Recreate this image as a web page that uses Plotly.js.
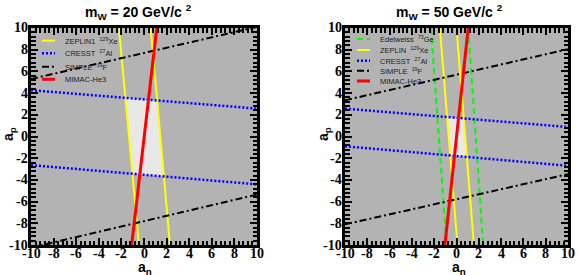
<!DOCTYPE html>
<html><head><meta charset="utf-8">
<script src="https://cdn.plot.ly/plotly-3.0.1.min.js"></script>
<style>html,body{margin:0;padding:0;background:#fff}</style>
</head><body>
<div id="chart" style="width:579px;height:275px"></div>
<script>
// ---------- data ----------
const tickVals = [-10,-8,-6,-4,-2,0,2,4,6,8,10];
const tickText = ['-10','-8','-6','-4','-2','0','2','4','6','8','10'];
const apEnds = [10, -10];
const anEnds = [-10, 10];

const an20Zeplin1 = [-2.22, -0.44];
const an20Zeplin2 = [0.59, 2.30];
const an20Mimac   = [1.13, -1.09];
const ap20Cresst1 = [4.27, 2.57];
const ap20Cresst2 = [-2.64, -4.41];
const ap20Simple1 = [5.30, 10.10];
const ap20Simple2 = [-10.25, -5.35];

const an50Edel1   = [-2.29, -0.89];
const an50Edel2   = [1.05, 2.39];
const an50Zeplin1 = [-1.49, 0.09];
const an50Zeplin2 = [0.00, 1.56];
const an50Mimac   = [1.05, -1.04];
const ap50Cresst1 = [2.57, 0.87];
const ap50Cresst2 = [-0.90, -2.70];
const ap50Simple1 = [3.34, 8.05];
const ap50Simple2 = [-8.10, -3.47];

const legend20 = ['ZEPLIN1\u00a0\u00a0<sup>129</sup>Xe', 'CRESST\u00a0\u00a0<sup>27</sup>Al', 'SIMPLE\u00a0\u00a0<sup>19</sup>F', 'MIMAC-He3'];
const legend50 = ['Edelweiss\u00a0\u00a0<sup>73</sup>Ge', 'ZEPLIN\u00a0\u00a0<sup>129</sup>Xe', 'CRESST\u00a0\u00a0<sup>27</sup>Al', 'SIMPLE\u00a0\u00a0<sup>19</sup>F', 'MIMAC-He3'];
const titles = ['m<sub>W</sub> = 20 GeV/c <sup>2</sup>', 'm<sub>W</sub> = 50 GeV/c <sup>2</sup>'];
const xTitle = 'a<sub>n</sub>';
const yTitle = 'a<sub>p</sub>';

// ---------- styles ----------
const W = 579, H = 275;
const px = x => x / W, py = y => 1 - y / H;
const sYellow = {color:'#ffff00', width:2};
const sRed    = {color:'#ff0000', width:3};
const sBlue   = {color:'#0000ff', width:2.5, dash:'2px,2px'};
const sBlack  = {color:'#000000', width:2, dash:'7px,3px,2px,3px'};
const sGreen  = {color:'#00ff00', width:2, dash:'6px,4px'};

const minorVals = [];
for (let i = 0; i <= 50; i++) { if (i % 5) minorVals.push(-10 + i * 0.4); }

function inter(p1, p2, q1, q2) {
  const [x1,y1]=p1,[x2,y2]=p2,[x3,y3]=q1,[x4,y4]=q2;
  const d = (x1-x2)*(y3-y4)-(y1-y2)*(x3-x4);
  const a = x1*y2-y1*x2, b = x3*y4-y3*x4;
  return [(a*(x3-x4)-(x1-x2)*b)/d, (a*(y3-y4)-(y1-y2)*b)/d];
}
function steep(an){ return [[an[0],apEnds[0]],[an[1],apEnds[1]]]; }
function flat(ap){ return [[anEnds[0],ap[0]],[anEnds[1],ap[1]]]; }
function region(z1, z2, c1, c2) {
  const A = steep(z1), B = steep(z2), C = flat(c1), D = flat(c2);
  const pts = [inter(...A,...C), inter(...B,...C), inter(...B,...D), inter(...A,...D)];
  pts.push(pts[0]);
  return {x: pts.map(p=>p[0]), y: pts.map(p=>p[1])};
}

const traces = [];
function addFill(r, xa, ya) {
  traces.push({x:r.x, y:r.y, xaxis:xa, yaxis:ya, mode:'lines', fill:'toself',
    fillcolor:'#e8e8e8', line:{width:0, color:'rgba(0,0,0,0)'}, hoverinfo:'skip', showlegend:false});
}
function addSteep(an, st, xa, ya) {
  traces.push({x:an, y:apEnds, xaxis:xa, yaxis:ya, mode:'lines', line:st, showlegend:false});
}
function addFlat(ap, st, xa, ya) {
  traces.push({x:anEnds, y:ap, xaxis:xa, yaxis:ya, mode:'lines', line:st, showlegend:false});
}

addFill(region(an20Zeplin1, an20Zeplin2, ap20Cresst1, ap20Cresst2), 'x', 'y');
addSteep(an20Zeplin1, sYellow, 'x', 'y');
addSteep(an20Zeplin2, sYellow, 'x', 'y');
addFlat(ap20Cresst1, sBlue, 'x', 'y');
addFlat(ap20Cresst2, sBlue, 'x', 'y');
addFlat(ap20Simple1, sBlack, 'x', 'y');
addFlat(ap20Simple2, sBlack, 'x', 'y');
addSteep(an20Mimac, sRed, 'x', 'y');

addFill(region(an50Zeplin1, an50Zeplin2, ap50Cresst1, ap50Cresst2), 'x2', 'y2');
addSteep(an50Edel1, sGreen, 'x2', 'y2');
addSteep(an50Edel2, sGreen, 'x2', 'y2');
addSteep(an50Zeplin1, sYellow, 'x2', 'y2');
addSteep(an50Zeplin2, sYellow, 'x2', 'y2');
addFlat(ap50Cresst1, sBlue, 'x2', 'y2');
addFlat(ap50Cresst2, sBlue, 'x2', 'y2');
addFlat(ap50Simple1, sBlack, 'x2', 'y2');
addFlat(ap50Simple2, sBlack, 'x2', 'y2');
addSteep(an50Mimac, sRed, 'x2', 'y2');

function axis(domain, anchor) {
  return {
    domain, anchor, range:[-10,10], fixedrange:true,
    tickmode:'array', tickvals:tickVals, ticktext:tickText, showticklabels:false,
    ticks:'inside', ticklen:7, tickwidth:2, tickcolor:'#000',
    minor:{tickmode:'array', tickvals:minorVals, ticks:'inside', ticklen:4.5, tickwidth:2, tickcolor:'#000', showgrid:false},
    showline:true, linewidth:3, linecolor:'#000', mirror:'allticks',
    showgrid:false, zeroline:false
  };
}

const xd1 = [px(31), px(257)], xd2 = [px(345), px(568)], yd = [py(245), py(28)];

const annotations = [];
const shapes = [];
function legend(names, styles, x0, ys) {
  names.forEach((n, i) => {
    shapes.push({type:'line', xref:'paper', yref:'paper', x0:px(x0), x1:px(x0+13),
      y0:py(ys[i]), y1:py(ys[i]), line:styles[i]});
    annotations.push({text:n, xref:'paper', yref:'paper', x:px(x0+21), y:py(ys[i]),
      xanchor:'left', yanchor:'middle', showarrow:false,
      font:{family:'Liberation Sans', size:7.5, color:'#222'}});
  });
}
legend(legend20, [sYellow, sBlue, sBlack, sRed], 42, [40.7, 53.3, 66.7, 79.3]);
legend(legend50, [sGreen, sYellow, sBlue, sBlack, sRed], 357, [39, 50, 60.7, 70.7, 81]);
titles.forEach((t, i) => {
  annotations.push({text:t, xref:'paper', yref:'paper', x:px(i===0?138:449), y:py(12),
    xanchor:'center', yanchor:'middle', showarrow:false,
    font:{family:'Liberation Sans', size:14, color:'#000', weight:'bold'}});
});
const tickFont = {family:'Liberation Serif, serif', size:14, color:'#000', weight:'bold'};
[['x','y',31],['x2','y2',345]].forEach(([xa, ya, left]) => {
  tickVals.forEach((v, i) => {
    annotations.push({text:tickText[i], xref:xa, yref:'paper', x:v, y:py(253),
      xanchor:'center', yanchor:'middle', showarrow:false, font:tickFont});
    annotations.push({text:tickText[i], xref:'paper', yref:ya, x:px(left-1), y:v,
      xanchor:'right', yanchor:'middle', showarrow:false, font:tickFont});
  });
});
const axTitleFont = {family:'Liberation Sans', size:14, color:'#000', weight:'bold'};
[145, 459].forEach(cx => {
  annotations.push({text:xTitle, xref:'paper', yref:'paper', x:px(cx), y:py(267.5),
    xanchor:'center', yanchor:'middle', showarrow:false, font:axTitleFont});
});
[9, 324].forEach(cx => {
  annotations.push({text:yTitle, xref:'paper', yref:'paper', x:px(cx), y:py(134),
    xanchor:'center', yanchor:'middle', showarrow:false, textangle:-90, font:axTitleFont});
});

const layout = {
  width:W, height:H, margin:{l:0, r:0, t:0, b:0},
  paper_bgcolor:'#ffffff', plot_bgcolor:'#b3b3b3', showlegend:false,
  xaxis:axis(xd1, 'y'),
  yaxis:axis(yd, 'x'),
  xaxis2:axis(xd2, 'y2'),
  yaxis2:axis(yd, 'x2'),
  annotations, shapes
};

Plotly.newPlot('chart', traces, layout, {staticPlot:true, displayModeBar:false});
</script>
</body></html>
